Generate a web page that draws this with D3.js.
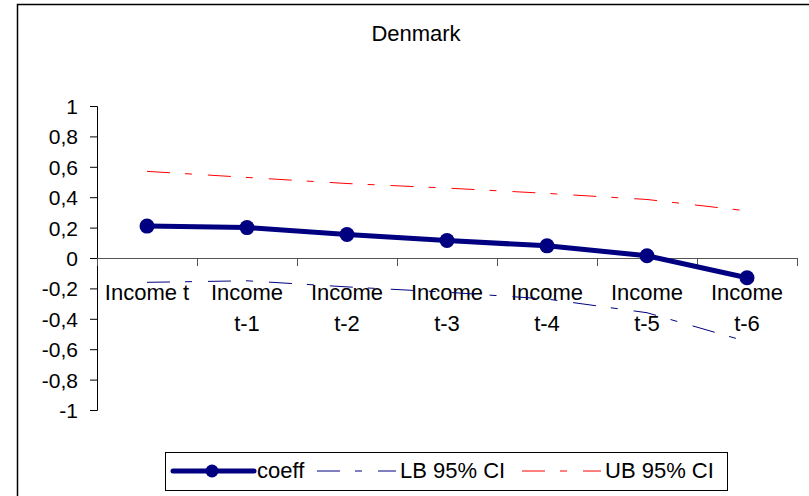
<html lang="en">
<head>
<meta charset="utf-8">
<title>Denmark</title>
<script src="https://cdn.jsdelivr.net/npm/d3@7"></script>
<style>
  body { margin: 0; background: #fff; }
  text { font-family: "Liberation Sans", Arial, sans-serif; fill: #000; }
</style>
</head>
<body>
<script>
  var categories = ["Income t", "Income t-1", "Income t-2", "Income t-3", "Income t-4", "Income t-5", "Income t-6"];
  var coeff = [0.21, 0.20, 0.155, 0.115, 0.08, 0.015, -0.13];
  var lb = [-0.16, -0.15, -0.19, -0.225, -0.27, -0.36, -0.55];
  var ub = [0.57, 0.53, 0.49, 0.46, 0.425, 0.385, 0.31];
  var yTicks = [1, 0.8, 0.6, 0.4, 0.2, 0, -0.2, -0.4, -0.6, -0.8, -1];

  var width = 809, height = 496;
  var plotLeft = 97, plotRight = 797, plotTop = 106, plotBottom = 410;

  var svg = d3.select("body").append("svg").attr("width", width).attr("height", height);

  // outer chart border
  svg.append("rect").attr("x", 17.5).attr("y", 4.5).attr("width", 820).attr("height", 520)
    .attr("fill", "#fff").attr("stroke", "#000").attr("stroke-width", 1.5);

  svg.append("text").text("Denmark").attr("x", 416).attr("y", 41)
    .attr("font-size", "22px").attr("text-anchor", "middle");

  var x = d3.scaleBand().domain(categories).range([plotLeft, plotRight]);
  var y = d3.scaleLinear().domain([-1, 1]).range([plotBottom, plotTop]);
  var cx = function (i) { return x(categories[i]) + x.bandwidth() / 2; };

  var yAxis = d3.axisLeft(y).tickValues(yTicks).tickSize(7).tickSizeOuter(7)
    .tickFormat(function (d) { return String(d).replace(".", ","); });
  var gy = svg.append("g").attr("transform", "translate(" + plotLeft + ",0)").call(yAxis);
  gy.selectAll("text").attr("font-size", "21px").attr("x", -19).attr("dy", "0.36em");
  gy.selectAll("path, line").attr("stroke", "#000");

  var xb = d3.scaleLinear().domain([0, categories.length]).range([plotLeft, plotRight]);
  var xAxis = d3.axisBottom(xb).ticks(categories.length).tickSize(8).tickSizeOuter(0).tickFormat("");
  var gx = svg.append("g").attr("transform", "translate(0," + y(0) + ")").call(xAxis);
  gx.selectAll("path, line").attr("stroke", "#555");

  // category labels (wrapped like Excel)
  var lbl = svg.append("g").selectAll("text").data(categories).enter().append("text")
    .attr("font-size", "22px").attr("text-anchor", "middle")
    .attr("x", function (d) { return x(d) + x.bandwidth() / 2; }).attr("y", 300);
  lbl.each(function (d) {
    var t = d3.select(this);
    var parts = d === "Income t" ? [d] : d.split(" ");
    parts.forEach(function (p, i) {
      t.append("tspan").attr("x", t.attr("x")).attr("dy", i === 0 ? 0 : 31).text(p);
    });
  });

  var line = d3.line().x(function (d, i) { return cx(i); }).y(function (d) { return y(d); });
  var dash = "23,15,7,16";

  svg.append("path").attr("d", line(lb)).attr("fill", "none").attr("stroke", "#000080")
    .attr("stroke-width", 1).attr("stroke-dasharray", dash);
  svg.append("path").attr("d", line(ub)).attr("fill", "none").attr("stroke", "#ff0000")
    .attr("stroke-width", 1).attr("stroke-dasharray", dash);
  svg.append("path").attr("d", line(coeff)).attr("fill", "none").attr("stroke", "#000080")
    .attr("stroke-width", 5);
  svg.selectAll("circle.pt").data(coeff).enter().append("circle").attr("class", "pt")
    .attr("cx", function (d, i) { return cx(i); }).attr("cy", function (d) { return y(d); })
    .attr("r", 7.5).attr("fill", "#000080");

  // legend
  var lg = svg.append("g");
  lg.append("rect").attr("x", 165.5).attr("y", 452.5).attr("width", 562).attr("height", 38)
    .attr("fill", "#fff").attr("stroke", "#000").attr("stroke-width", 1);
  var ly = 471;
  lg.append("line").attr("x1", 173).attr("x2", 254).attr("y1", ly).attr("y2", ly)
    .attr("stroke", "#000080").attr("stroke-width", 5).attr("stroke-linecap", "round");
  lg.append("circle").attr("cx", 212).attr("cy", ly).attr("r", 6.5).attr("fill", "#000080");
  lg.append("text").text("coeff").attr("x", 257).attr("y", ly + 7).attr("font-size", "22px");
  lg.append("line").attr("x1", 317).attr("x2", 396).attr("y1", ly).attr("y2", ly)
    .attr("stroke", "#000080").attr("stroke-width", 1).attr("stroke-dasharray", "23,15,7,16");
  lg.append("text").text("LB 95% CI").attr("x", 400).attr("y", ly + 7).attr("font-size", "22px");
  lg.append("line").attr("x1", 522).attr("x2", 601).attr("y1", ly).attr("y2", ly)
    .attr("stroke", "#ff0000").attr("stroke-width", 1).attr("stroke-dasharray", "23,15,7,16");
  lg.append("text").text("UB 95% CI").attr("x", 605).attr("y", ly + 7).attr("font-size", "22px");
</script>
</body>
</html>
